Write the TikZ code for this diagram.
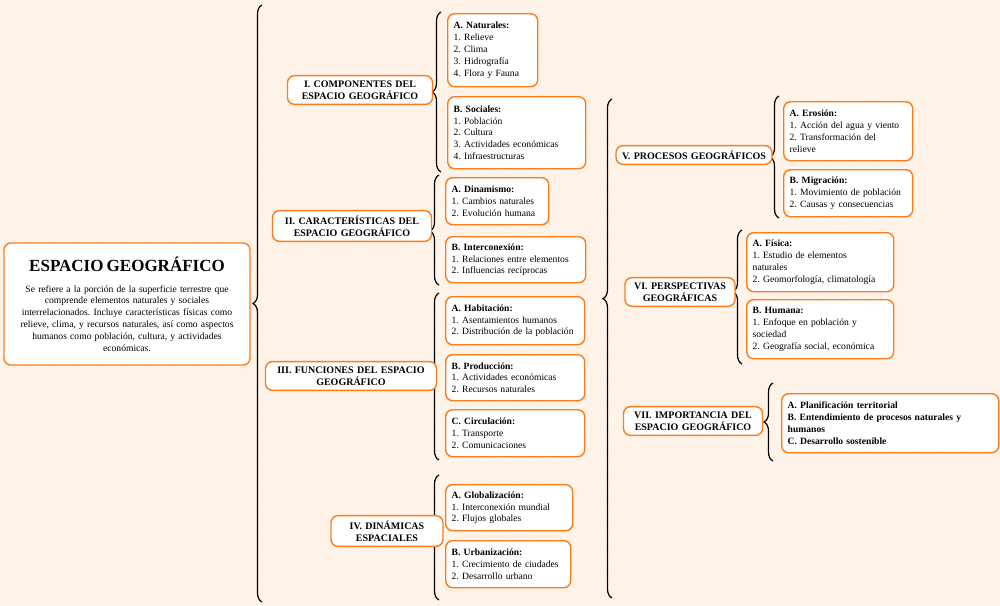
\documentclass[tikz,border=0pt]{standalone}
\usepackage{fontspec}
\setmainfont{Liberation Serif}
\usetikzlibrary{patterns,decorations.pathreplacing}
\frenchspacing

\begin{document}
\begin{tikzpicture}[
	x=1pt, y=-1pt,
	every node/.style={font=\fontsize{9.6}{11.8}\selectfont},
	box/.style={shape=rectangle, draw=orange!85!red!90, line width=1.4pt,
		rounded corners=7pt, fill=white, inner sep=5pt},
	head/.style={box, align=center, font=\fontsize{10}{12}\selectfont\bfseries},
	sub/.style={box, align=left, anchor=north west, inner sep=6pt},
	brace/.style={decorate, decoration={brace, amplitude=9pt, aspect=#1}, line width=1.2pt}]
	% background
	\fill[orange!4] (0,0) rectangle (1000,605);
	\fill[pattern=north east lines, pattern color=orange!18] (0,0) rectangle (1000,605);
	\useasboundingbox (0,0) rectangle (1000,605);

	% main
	\node[box, text width=236pt, minimum height=122pt, align=center] (main) at (127,304)
	{{\fontsize{17}{20}\selectfont\bfseries ESPACIO GEOGRÁFICO}\\[9pt]
	 Se refiere a la porción de la superficie terrestre que\\comprende elementos naturales y sociales\\interrelacionados. Incluye características físicas como\\relieve, clima, y recursos naturales, así como aspectos\\humanos como población, cultura, y actividades\\económicas.};

	% braces
	\draw[brace=0.5] (262,602) -- (262,5);
	\draw[brace=0.5] (441,172) -- (441,12);
	\draw[brace=0.49] (439,285) -- (439,175);
	\draw[brace=0.5] (439,460) -- (439,293);
	\draw[brace=0.55] (439,600) -- (439,475);
	\draw[brace=0.6] (612,598) -- (612,99);
	\draw[brace=0.5] (779,218) -- (779,96);
	\draw[brace=0.54] (742,364) -- (742,230);
	\draw[brace=0.5] (773,461) -- (773,383);

	% level one
	\node[head, text width=135pt] (comp) at (360,90) {I. COMPONENTES DEL\\ESPACIO GEOGRÁFICO};
	\node[head, text width=149pt] (carac) at (352,226) {II. CARACTERÍSTICAS DEL\\ESPACIO GEOGRÁFICO};
	\node[head, text width=161pt] (func) at (351,376) {III. FUNCIONES DEL ESPACIO\\GEOGRÁFICO};
	\node[head, text width=102pt] (dinam) at (387,531) {IV. DINÁMICAS\\ESPACIALES};
	\node[head, text width=146pt] (proc) at (694,155) {V. PROCESOS GEOGRÁFICOS};
	\node[head, text width=100pt] (persp) at (680,292) {VI. PERSPECTIVAS\\GEOGRÁFICAS};
	\node[head, text width=129pt] (impor) at (693,421) {VII. IMPORTANCIA DEL\\ESPACIO GEOGRÁFICO};

	% sub boxes
	\node[sub, text width=78pt, minimum height=73pt] (natur) at (447,13)
	{\textbf{A. Naturales:}\\1. Relieve\\2. Clima\\3. Hidrografía\\4. Flora y Fauna};
	\node[sub, text width=126pt, minimum height=72pt] (socia) at (447,96)
	{\textbf{B. Sociales:}\\1. Población\\2. Cultura\\3. Actividades económicas\\4. Infraestructuras};
	\node[sub, text width=91pt, minimum height=47pt] (dinamis) at (445,177)
	{\textbf{A. Dinamismo:}\\1. Cambios naturales\\2. Evolución humana};
	\node[sub, text width=128pt, minimum height=46pt] (inter) at (445,236)
	{\textbf{B. Interconexión:}\\1. Relaciones entre elementos\\2. Influencias recíprocas};
	\node[sub, text width=127pt, minimum height=48pt] (habit) at (445,296)
	{\textbf{A. Habitación:}\\1. Asentamientos humanos\\2. Distribución de la población};
	\node[sub, text width=127pt, minimum height=46pt] (produ) at (445,354)
	{\textbf{B. Producción:}\\1. Actividades económicas\\2. Recursos naturales};
	\node[sub, text width=127pt, minimum height=47pt] (circu) at (445,409)
	{\textbf{C. Circulación:}\\1. Transporte\\2. Comunicaciones};
	\node[sub, text width=115pt, minimum height=46pt] (globa) at (445,484)
	{\textbf{A. Globalización:}\\1. Interconexión mundial\\2. Flujos globales};
	\node[sub, text width=113pt, minimum height=47pt] (urban) at (445,540)
	{\textbf{B. Urbanización:}\\1. Crecimiento de ciudades\\2. Desarrollo urbano};
	\node[sub, text width=117pt, minimum height=59pt] (erosi) at (783,101)
	{\textbf{A. Erosión:}\\1. Acción del agua y viento\\2. Transformación del\\relieve};
	\node[sub, text width=117pt, minimum height=47pt] (migra) at (783,169)
	{\textbf{B. Migración:}\\1. Movimiento de población\\2. Causas y consecuencias};
	\node[sub, text width=135pt, minimum height=59pt] (fisic) at (746,232)
	{\textbf{A. Física:}\\1. Estudio de elementos\\naturales\\2. Geomorfología, climatología};
	\node[sub, text width=135pt, minimum height=59pt] (human) at (746,299)
	{\textbf{B. Humana:}\\1. Enfoque en población y\\sociedad\\2. Geografía social, económica};
	\node[sub, text width=205pt, minimum height=59pt, font=\fontsize{9.6}{11.8}\selectfont\bfseries] (impbox) at (781,393)
	{A. Planificación territorial\\B. Entendimiento de procesos naturales y\\humanos\\C. Desarrollo sostenible};
\end{tikzpicture}
\end{document}
